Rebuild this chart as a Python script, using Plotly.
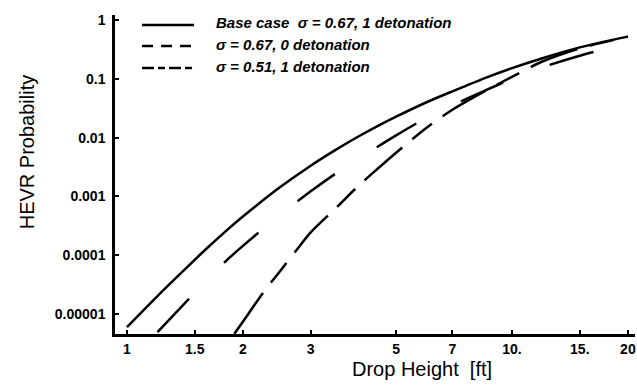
import plotly.graph_objects as go

# Drop height (ft) and HEVR probability
base_x = [1.0, 1.2, 1.4, 1.6, 1.8, 2.0, 2.5, 3.0, 3.5, 4.0, 4.5, 5.0, 6.0, 7.0, 8.5, 10.0, 12.0, 15.0, 20.0]
base_y = [6.0e-6, 2.02e-5, 5.4e-5, 1.25e-4, 2.52e-4, 4.54e-4, 1.44e-3, 3.33e-3, 6.3e-3, 0.01054,
          0.016, 0.0227, 0.0399, 0.0612, 0.103, 0.152, 0.224, 0.342, 0.521]

det0_x = [1.2, 1.4, 1.6, 1.8, 2.0, 2.5, 3.0, 3.5, 4.0, 5.0, 6.0, 7.0, 8.5, 10.0, 12.0, 15.0, 20.0]
det0_y = [4.9e-6, 1.43e-5, 3.6e-5, 7.8e-5, 1.44e-4, 4.9e-4, 1.22e-3, 2.5e-3, 4.4e-3,
          0.0109, 0.0217, 0.0353, 0.0627, 0.100, 0.157, 0.247, 0.406]

s51_x = [1.9, 2.0, 2.25, 2.5, 2.75, 3.0, 3.5, 4.0, 4.5, 5.0, 6.0, 7.0, 8.5, 10.0, 12.0, 15.0, 20.0]
s51_y = [4.6e-6, 7.4e-6, 2.24e-5, 5.4e-5, 1.2e-4, 2.45e-4, 6.5e-4, 1.53e-3, 3.04e-3,
         5.53e-3, 0.0147, 0.0297, 0.0617, 0.108, 0.197, 0.33, 0.519]

x_ticks = [1, 1.5, 2, 3, 5, 7, 10, 15, 20]
x_ticktext = ["1", "1.5", "2", "3", "5", "7", "10.", "15.", "20"]
y_ticks = [1, 0.1, 0.01, 0.001, 0.0001, 0.00001]
y_ticktext = ["1", "0.1", "0.01", "0.001", "0.0001", "0.00001"]

legend_labels = ["Base case  \u03c3 = 0.67, 1 detonation",
                 "\u03c3 = 0.67, 0 detonation",
                 "\u03c3 = 0.51, 1 detonation"]

FONT = "Liberation Sans, Arial, Helvetica, sans-serif"
dashes = ["solid", "11px,8px", "12px,4px,7px,4px"]
curve_dashes = ["solid", "46px,50px", "50px,13px,25px,13px"]

fig = go.Figure()
for xs, ys, d in [(base_x, base_y, curve_dashes[0]),
                  (det0_x, det0_y, curve_dashes[1]),
                  (s51_x, s51_y, curve_dashes[2])]:
    fig.add_trace(go.Scatter(x=xs, y=ys, mode="lines", line_shape="spline",
                             line=dict(color="black", width=2.5, dash=d, smoothing=0.8),
                             showlegend=False, hoverinfo="skip"))

# custom legend
row_line_y = [0.9687, 0.9028, 0.8339]
row_text_y = [0.975, 0.906, 0.837]
for i in range(3):
    fig.add_shape(type="line", xref="paper", yref="paper",
                  x0=0.052, x1=0.152, y0=row_line_y[i], y1=row_line_y[i],
                  line=dict(color="black", width=2.5, dash=dashes[i]))
    fig.add_annotation(xref="paper", yref="paper", x=0.19, y=row_text_y[i],
                       xanchor="left", yanchor="middle", showarrow=False,
                       text=legend_labels[i],
                       font=dict(family=FONT, size=15, color="black",
                                 weight="bold", style="italic"))

fig.add_annotation(xref="paper", yref="paper", x=0.59, y=-0.11,
                   xanchor="center", yanchor="middle", showarrow=False,
                   text="Drop Height  [ft]",
                   font=dict(family=FONT, size=20, color="black"))
fig.add_annotation(xref="paper", yref="paper", x=-0.169, y=0.57,
                   xanchor="center", yanchor="middle", showarrow=False,
                   text="HEVR Probability", textangle=-90,
                   font=dict(family=FONT, size=20, color="black"))

fig.update_xaxes(type="log", range=[-0.0312, 1.3195], automargin=False,
                 tickvals=x_ticks, ticktext=x_ticktext,
                 ticks="inside", ticklen=4, tickwidth=1.5, tickcolor="black",
                 showline=True, linecolor="black", linewidth=2.5,
                 showgrid=False, zeroline=False, ticklabeloverflow="allow",
                 tickfont=dict(family=FONT, size=14, color="black", weight="bold"))
fig.update_yaxes(type="log", range=[-5.34, 0.085], automargin=False,
                 tickvals=y_ticks, ticktext=y_ticktext,
                 ticks="inside", ticklen=4, tickwidth=1.5, tickcolor="black",
                 showline=True, linecolor="black", linewidth=2.5,
                 showgrid=False, zeroline=False, ticklabelstandoff=4,
                 tickfont=dict(family=FONT, size=14, color="black", weight="bold"))

fig.update_layout(width=637, height=385,
                  margin=dict(l=115, r=2, t=15, b=51),
                  plot_bgcolor="white", paper_bgcolor="white",
                  showlegend=False)

fig.write_html("out.html", config={"displayModeBar": False},
               post_script="document.body.style.margin='0';")
